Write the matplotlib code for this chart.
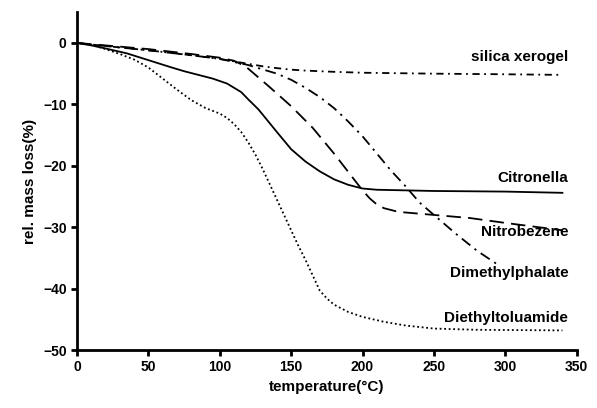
import matplotlib
matplotlib.use('Agg')
import matplotlib.pyplot as plt
import numpy as np

plt.rcParams['font.family'] = ['Liberation Sans', 'DejaVu Sans']
plt.rcParams['font.weight'] = 'bold'

# data
silica_x = [0, 20, 50, 80, 100, 110, 120, 130, 140, 150, 160, 180, 200, 250, 300, 340]
silica_y = [0, -0.5, -1.2, -2.0, -2.6, -3.0, -3.4, -3.8, -4.1, -4.35, -4.5, -4.7, -4.85, -5.0, -5.1, -5.2]

dmp_x = [0, 20, 50, 80, 100, 110, 120, 130, 140, 150, 160, 170, 180, 190, 200, 210, 220, 230, 240, 250, 265, 280, 296]
dmp_y = [0, -0.5, -1.2, -2.0, -2.6, -3.1, -3.6, -4.3, -5.0, -6.0, -7.3, -8.8, -10.6, -12.8, -15.2, -18, -20.8, -23.3, -26, -28, -31, -33.8, -36.3]

nitro_x = [0, 20, 50, 80, 100, 110, 118, 125, 135, 150, 165, 180, 190, 200, 205, 210, 215, 225, 250, 275, 300, 340]
nitro_y = [0, -0.4, -1.0, -1.8, -2.4, -2.9, -3.8, -5.2, -7.2, -10.3, -13.8, -18, -21, -24, -25.3, -26.3, -26.9, -27.5, -28, -28.5, -29.3, -30.5]

citro_x = [0, 10, 20, 35, 50, 65, 75, 85, 95, 100, 105, 110, 115, 120, 127, 133, 140, 150, 160, 170, 180, 190, 200, 210, 250, 300, 340]
citro_y = [0, -0.4, -0.9, -1.7, -2.8, -3.9, -4.6, -5.2, -5.8, -6.2, -6.6, -7.3, -8.0, -9.2, -10.8, -12.5, -14.5, -17.3, -19.3, -20.9, -22.2, -23.1, -23.7, -23.9, -24.1, -24.2, -24.4]

deet_x = [0, 10, 20, 30, 40, 50, 60, 70, 80, 90, 100, 105, 110, 115, 120, 125, 130, 135, 140, 145, 150, 155, 160, 165, 170, 175, 180, 190, 200, 215, 230, 250, 280, 340]
deet_y = [0, -0.3, -1.0, -1.8, -2.7, -4.0, -5.8, -7.6, -9.3, -10.6, -11.5, -12.2, -13.2, -14.5, -16.2, -18.2, -20.5, -23, -25.5, -28, -30.5, -33, -35.3, -37.8, -40.3, -41.6, -42.6, -43.8, -44.6, -45.4, -46, -46.5, -46.7, -46.8]

labels = ['silica xerogel', 'Citronella', 'Nitrobezene', 'Dimethylphalate', 'Diethyltoluamide']
label_y = [-2.3, -22.0, -30.8, -37.5, -44.8]

fig = plt.figure(figsize=(5.97, 4.08), dpi=100)
ax = fig.add_axes([0.129, 0.142, 0.837, 0.828])

style = dict(color='black', lw=1.3, solid_joinstyle='round', dash_joinstyle='round')
ax.plot(silica_x, silica_y, dashes=(4, 2.5, 1, 2.5), **style)
ax.plot(dmp_x, dmp_y, dashes=(6, 3, 1.2, 3), **style)
ax.plot(nitro_x, nitro_y, dashes=(8, 4), **style)
ax.plot(citro_x, citro_y, **style)
ax.plot(deet_x, deet_y, dashes=(1, 1.5), **style)

for txt, yy in zip(labels, label_y):
    ax.text(344, yy, txt, ha='right', va='center', fontsize=11, fontweight='bold')

ax.set_xlim(0, 350)
ax.set_ylim(-50, 5)
ax.set_xticks(np.arange(0, 351, 50))
ax.set_yticks([0, -10, -20, -30, -40, -50])
ax.spines['top'].set_visible(False)
ax.spines['right'].set_visible(False)
ax.spines['left'].set_linewidth(2)
ax.spines['bottom'].set_linewidth(2)
ax.tick_params(width=2, length=4, labelsize=10)
ax.set_xlabel('temperature(°C)', fontsize=11, fontweight='bold')
ax.set_ylabel('rel. mass loss(%)', fontsize=11, fontweight='bold')

fig.savefig('out.png', dpi=100)
